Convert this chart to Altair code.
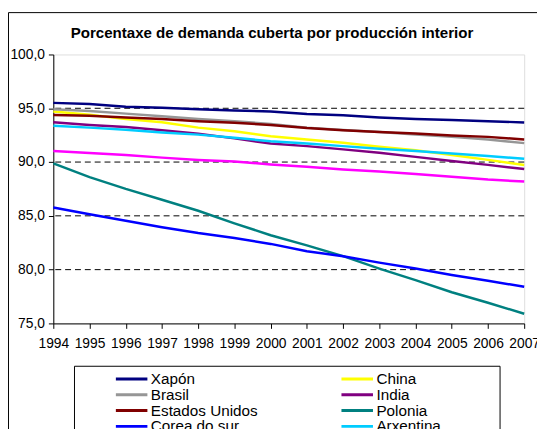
import altair as alt
import pandas as pd

years = list(range(1994, 2008))
xapon = [95.5, 95.4, 95.15, 95.05, 94.9, 94.8, 94.7, 94.47, 94.35, 94.14, 94.0, 93.9, 93.8, 93.68]
china = [94.7, 94.4, 94.0, 93.7, 93.2, 92.86, 92.4, 92.1, 91.8, 91.42, 91.1, 90.66, 90.2, 89.72]
brasil = [94.9, 94.75, 94.5, 94.26, 94.0, 93.8, 93.55, 93.2, 92.98, 92.8, 92.55, 92.34, 92.1, 91.76]
india = [93.7, 93.45, 93.25, 92.95, 92.64, 92.2, 91.72, 91.48, 91.18, 90.87, 90.48, 90.1, 89.74, 89.35]
estados_unidos = [94.38, 94.3, 94.14, 94.0, 93.8, 93.65, 93.45, 93.16, 92.95, 92.8, 92.65, 92.46, 92.34, 92.1]
polonia = [89.87, 88.6, 87.5, 86.5, 85.47, 84.3, 83.2, 82.26, 81.25, 80.1, 79.03, 77.9, 76.92, 75.9]
corea = [85.78, 85.14, 84.55, 83.94, 83.4, 82.94, 82.39, 81.71, 81.25, 80.65, 80.1, 79.5, 78.97, 78.4]
arxentina = [93.38, 93.2, 93.0, 92.75, 92.55, 92.25, 91.94, 91.73, 91.48, 91.24, 91.03, 90.8, 90.57, 90.3]
mundo = [91.03, 90.84, 90.66, 90.41, 90.2, 90.05, 89.78, 89.56, 89.31, 89.13, 88.89, 88.64, 88.37, 88.19]

series_names = ["Xapón", "China", "Brasil", "India", "Estados Unidos", "Polonia",
                "Corea do sur", "Arxentina", "Mundo"]
series_values = [xapon, china, brasil, india, estados_unidos, polonia, corea, arxentina, mundo]
series_colors = ["#000080", "#FFFF00", "#969696", "#800080", "#800000", "#008080",
                 "#0000FF", "#00CCFF", "#FF00FF"]
# legend is filled column by column: left column first, then right column
legend_order = ["Xapón", "Brasil", "Estados Unidos", "Corea do sur", "Mundo",
                "China", "India", "Polonia", "Arxentina"]

y_ticks = [75, 80, 85, 90, 95, 100]
grid_vals = [80, 85, 90, 95]
title_text = "Porcentaxe de demanda cuberta por producción interior"

rows = []
for name, vals in zip(series_names, series_values):
    for yr, v in zip(years, vals):
        rows.append({"Ano": yr, "Valor": v, "Serie": name})
df = pd.DataFrame(rows)

color_lookup = dict(zip(series_names, series_colors))
legend_colors = [color_lookup[n] for n in legend_order]

FONT = "Liberation Sans"

x_enc = alt.X("Ano:Q", scale=alt.Scale(domain=[1994, 2007], nice=False, zero=False),
              axis=alt.Axis(values=years, format="d", title=None, grid=False,
                            labelFont=FONT, labelFontSize=14, labelColor="black",
                            tickSize=5, tickColor="black", labelPadding=8,
                            domainColor="black", labelFlush=False))
y_scale = alt.Scale(domain=[75, 100], nice=False, zero=False)

lines = alt.Chart(df).mark_line(strokeWidth=2.5).encode(
    x=x_enc,
    y=alt.Y("Valor:Q", scale=y_scale,
            axis=alt.Axis(values=y_ticks, title=None, grid=False,
                          labelExpr="replace(format(datum.value, '.1f'), '.', ',')",
                          labelFont=FONT, labelFontSize=14, labelColor="black",
                          tickSize=5, tickColor="black", labelPadding=4,
                          domainColor="black")),
    color=alt.Color("Serie:N",
                    scale=alt.Scale(domain=legend_order, range=legend_colors),
                    sort=legend_order,
                    legend=alt.Legend(orient="none", legendX=62, legendY=323,
                                      title=None, columns=2, columnPadding=83,
                                      rowPadding=0, clipHeight=13,
                                      symbolType="M-1,0H3",
                                      symbolSize=256, symbolStrokeWidth=3,
                                      labelFont=FONT, labelFontSize=15.5,
                                      labelColor="black", labelOffset=18,
                                      padding=0)),
    order=alt.value(0),
)

grid = alt.Chart(pd.DataFrame({"g": grid_vals})).mark_rule(
    color="black", strokeWidth=1, strokeDash=[6, 4]
).encode(y=alt.Y("g:Q", scale=y_scale))

box_df = pd.DataFrame({"k": [0]})
legend_box = alt.Chart(box_df).mark_rect(fill=None, stroke="black", strokeWidth=1).encode(
    x=alt.value(21.5), x2=alt.value(453.5), y=alt.value(316.5), y2=alt.value(440)
)
outer_frame = alt.Chart(box_df).mark_rect(fill=None, stroke="black", strokeWidth=1).encode(
    x=alt.value(-45.5), x2=alt.value(600), y=alt.value(-42.5), y2=alt.value(500)
)

chart = alt.layer(outer_frame, grid, lines, legend_box).properties(
    width=478, height=273,
    autosize=alt.AutoSizeParams(type="none"),
    padding={"left": 46, "top": 44, "right": 13, "bottom": 104},
    title=alt.TitleParams(title_text, font=FONT, fontSize=15.3, fontWeight="bold",
                          color="black", anchor="middle", dx=-17, offset=-30),
).configure_view(stroke="#808080", strokeWidth=1).configure(background="white")

chart.save("out.html", embed_options={"renderer": "svg", "actions": False})
